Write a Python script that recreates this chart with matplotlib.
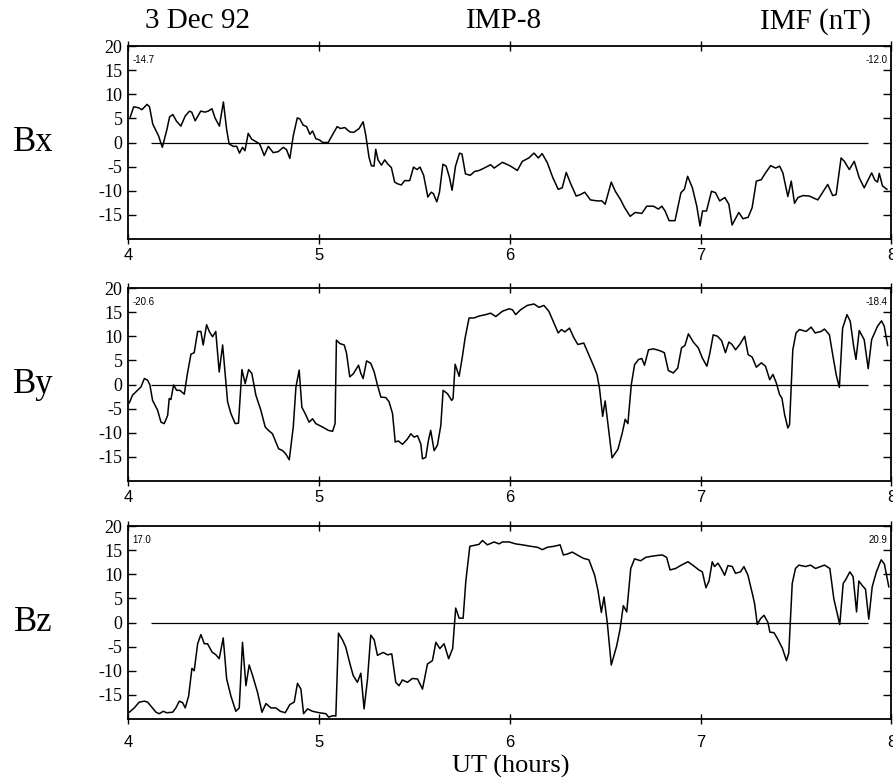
import matplotlib.pyplot as plt

plt.rcParams['font.family'] = 'Liberation Serif'
plt.rcParams['axes.unicode_minus'] = False

# IMP-8 magnetometer, 3 Dec 1992, GSM components (nT) vs UT hours
t_bx = [4.012, 4.03, 4.056, 4.073, 4.10, 4.113, 4.13, 4.16, 4.18, 4.204, 4.218, 4.235, 4.253,
        4.277, 4.30, 4.322, 4.334, 4.352, 4.381, 4.404, 4.42, 4.44, 4.456, 4.479, 4.50, 4.517,
        4.53, 4.552, 4.57, 4.584, 4.60, 4.613, 4.63, 4.648, 4.674, 4.69, 4.714, 4.735, 4.761,
        4.787, 4.814, 4.831, 4.848, 4.866, 4.887, 4.90, 4.918, 4.936, 4.953, 4.967, 4.984,
        5.005, 5.02, 5.049, 5.07, 5.096, 5.113, 5.136, 5.162, 5.183, 5.211, 5.232, 5.246,
        5.263, 5.275, 5.289, 5.298, 5.31, 5.328, 5.345, 5.362, 5.38, 5.397, 5.415, 5.432,
        5.45, 5.476, 5.496, 5.514, 5.53, 5.549, 5.571, 5.589, 5.60, 5.618, 5.632, 5.65,
        5.667, 5.684, 5.698, 5.716, 5.737, 5.75, 5.768, 5.793, 5.816, 5.84, 5.866, 5.90,
        5.918, 5.962, 6.005, 6.04, 6.066, 6.10, 6.127, 6.15, 6.17, 6.197, 6.226, 6.254,
        6.275, 6.296, 6.318, 6.348, 6.37, 6.393, 6.423, 6.457, 6.483, 6.50, 6.532, 6.553,
        6.58, 6.602, 6.631, 6.657, 6.692, 6.718, 6.753, 6.779, 6.797, 6.814, 6.835, 6.866,
        6.897, 6.915, 6.932, 6.957, 6.98, 6.997, 7.01, 7.031, 7.057, 7.078, 7.10, 7.127,
        7.148, 7.165, 7.20, 7.222, 7.249, 7.27, 7.292, 7.318, 7.34, 7.367, 7.393, 7.414,
        7.431, 7.457, 7.475, 7.492, 7.51, 7.536, 7.57, 7.614, 7.64, 7.666, 7.692, 7.71,
        7.736, 7.753, 7.779, 7.805, 7.831, 7.857, 7.896, 7.913, 7.927, 7.936, 7.953, 7.976]
bx = [5.3, 7.4, 7.2, 6.8, 7.9, 7.4, 3.8, 1.4, -1.0, 2.7, 5.3, 5.8, 4.5,
      3.4, 5.5, 6.5, 6.3, 4.5, 6.5, 6.3, 6.5, 7.0, 5.1, 3.4, 8.4, 2.7,
      -0.3, -0.8, -0.8, -2.2, -1.0, -1.7, 1.9, 0.7, 0.1, -0.3, -2.7, -0.8, -2.1,
      -1.9, -1.0, -1.5, -3.3, 1.4, 5.1, 4.9, 3.6, 3.3, 1.7, 2.4, 0.8,
      0.5, 0.0, 0.0, 1.5, 3.3, 2.9, 3.1, 2.2, 2.1, 2.9, 4.3, 1.5,
      -3.1, -4.8, -4.9, -1.4, -3.6, -4.7, -3.6, -4.5, -5.2, -8.2, -8.6, -8.8,
      -7.9, -7.9, -5.1, -5.6, -5.1, -6.8, -11.3, -10.3, -10.6, -12.3, -10.3, -4.5,
      -4.9, -7.2, -9.9, -4.9, -2.2, -2.4, -6.5, -6.8, -6.0, -5.8, -5.3, -4.6,
      -5.3, -4.1, -4.9, -5.8, -3.9, -3.2, -2.2, -3.2, -2.3, -4.2, -7.3, -9.7,
      -9.4, -6.2, -8.4, -11.1, -10.8, -10.3, -11.9, -12.1, -12.1, -12.8, -8.2, -10.1,
      -11.8, -13.5, -15.3, -14.5, -14.7, -13.2, -13.2, -13.8, -13.2, -14.2, -16.2, -16.2,
      -10.4, -9.7, -7.0, -9.4, -13.2, -17.3, -14.2, -14.2, -10.1, -10.4, -12.1, -11.4,
      -12.8, -17.1, -14.5, -15.8, -15.5, -13.5, -8.0, -7.7, -6.3, -4.8, -5.3, -4.9,
      -6.3, -11.2, -8.0, -12.6, -11.4, -11.0, -11.1, -11.9, -10.3, -8.7, -11.0, -10.8,
      -3.2, -3.9, -5.6, -3.9, -7.3, -9.4, -6.3, -7.8, -8.2, -6.4, -9.0, -9.7]

t_by = [4.007, 4.024, 4.05, 4.068, 4.086, 4.103, 4.115, 4.129, 4.155, 4.173, 4.19, 4.208,
        4.216, 4.225, 4.239, 4.255, 4.272, 4.295, 4.312, 4.33, 4.347, 4.365, 4.382, 4.394,
        4.412, 4.426, 4.443, 4.46, 4.478, 4.496, 4.522, 4.539, 4.562, 4.579, 4.597, 4.614,
        4.632, 4.649, 4.67, 4.696, 4.719, 4.736, 4.757, 4.789, 4.81, 4.827, 4.845, 4.866,
        4.88, 4.897, 4.911, 4.928, 4.949, 4.967, 4.984, 5.019, 5.05, 5.072, 5.085, 5.092,
        5.11, 5.133, 5.145, 5.162, 5.18, 5.208, 5.22, 5.232, 5.25, 5.272, 5.29, 5.307,
        5.325, 5.351, 5.368, 5.386, 5.40, 5.417, 5.438, 5.464, 5.482, 5.499, 5.517, 5.534,
        5.543, 5.56, 5.574, 5.586, 5.604, 5.621, 5.639, 5.651, 5.674, 5.696, 5.703, 5.714,
        5.735, 5.752, 5.766, 5.787, 5.813, 5.84, 5.875, 5.90, 5.927, 5.962, 5.997, 6.014,
        6.031, 6.057, 6.092, 6.127, 6.153, 6.179, 6.205, 6.231, 6.254, 6.271, 6.289, 6.313,
        6.336, 6.357, 6.388, 6.414, 6.44, 6.457, 6.47, 6.487, 6.50, 6.515, 6.536, 6.567,
        6.588, 6.605, 6.619, 6.637, 6.654, 6.675, 6.692, 6.706, 6.727, 6.753, 6.788, 6.81,
        6.831, 6.857, 6.88, 6.90, 6.918, 6.936, 6.962, 6.988, 7.009, 7.033, 7.049, 7.066,
        7.089, 7.11, 7.13, 7.148, 7.165, 7.183, 7.205, 7.231, 7.249, 7.27, 7.292, 7.318,
        7.34, 7.362, 7.379, 7.397, 7.414, 7.426, 7.44, 7.457, 7.466, 7.483, 7.50, 7.518,
        7.553, 7.579, 7.60, 7.631, 7.649, 7.675, 7.692, 7.71, 7.727, 7.744, 7.767, 7.784,
        7.802, 7.814, 7.831, 7.857, 7.878, 7.896, 7.927, 7.948, 7.962, 7.98]
by = [-3.8, -2.2, -1.2, -0.5, 1.25, 0.9, -0.1, -3.3, -5.3, -7.8, -8.1, -6.4,
      -2.9, -3.1, -0.1, -1.2, -1.2, -2.0, 2.4, 6.3, 6.6, 11.0, 11.0, 8.2,
      12.4, 11.0, 9.9, 11.0, 2.6, 8.2, -3.6, -6.0, -8.1, -8.0, 3.1, 0.2,
      3.1, 2.3, -2.2, -5.3, -8.8, -9.5, -10.2, -13.3, -13.7, -14.4, -15.6, -8.8,
      -0.5, 3.0, -4.7, -6.0, -7.8, -7.1, -8.1, -8.8, -9.5, -9.7, -8.1, 9.2,
      8.5, 8.2, 6.5, 1.6, 2.2, 4.0, 2.3, 1.25, 4.9, 4.4, 2.6, -0.1,
      -2.6, -2.7, -3.6, -6.0, -11.9, -11.7, -12.4, -11.3, -10.2, -10.9, -10.6, -12.3,
      -15.4, -15.1, -11.6, -9.5, -13.7, -12.6, -8.5, -1.2, -1.9, -3.3, -2.9, 4.2,
      1.7, 5.8, 9.6, 13.8, 13.8, 14.2, 14.5, 14.8, 14.1, 15.2, 15.7, 15.5,
      14.5, 15.5, 16.4, 16.7, 16.0, 16.4, 15.2, 12.8, 10.7, 11.4, 10.9, 11.7,
      9.7, 8.3, 8.6, 6.2, 3.8, 2.1, -0.7, -6.6, -3.4, -8.3, -15.2, -13.4,
      -10.3, -7.2, -8.1, 0.0, 4.1, 5.2, 5.4, 4.0, 7.2, 7.4, 7.0, 6.6,
      2.9, 2.4, 3.4, 7.6, 8.1, 10.5, 8.8, 7.6, 5.5, 3.8, 6.6, 10.3,
      10.0, 9.1, 6.6, 8.8, 8.3, 7.2, 8.3, 10.0, 6.2, 5.7, 3.6, 4.5,
      3.8, 1.0, 2.1, 0.3, -2.1, -2.8, -6.2, -9.0, -8.3, 7.2, 10.7, 11.4,
      11.0, 11.9, 10.7, 11.0, 11.5, 10.3, 6.2, 2.1, -0.6, 11.7, 14.5, 13.1,
      7.9, 5.2, 11.2, 9.3, 3.3, 9.3, 12.1, 13.2, 12.1, 8.1]

t_bz = [4.007, 4.033, 4.059, 4.086, 4.103, 4.12, 4.147, 4.164, 4.185, 4.202, 4.234, 4.251,
        4.269, 4.286, 4.30, 4.318, 4.335, 4.347, 4.365, 4.382, 4.40, 4.417, 4.44, 4.461,
        4.478, 4.499, 4.517, 4.539, 4.565, 4.583, 4.60, 4.618, 4.635, 4.653, 4.679, 4.702,
        4.723, 4.749, 4.775, 4.798, 4.824, 4.848, 4.871, 4.888, 4.906, 4.92, 4.941, 4.967,
        5.002, 5.037, 5.051, 5.075, 5.089, 5.103, 5.124, 5.141, 5.162, 5.18, 5.202, 5.22,
        5.237, 5.255, 5.272, 5.29, 5.307, 5.337, 5.36, 5.382, 5.403, 5.42, 5.438, 5.464,
        5.49, 5.517, 5.543, 5.569, 5.595, 5.613, 5.634, 5.656, 5.68, 5.701, 5.717, 5.735,
        5.756, 5.77, 5.791, 5.814, 5.839, 5.857, 5.883, 5.918, 5.944, 5.962, 5.997, 6.031,
        6.066, 6.11, 6.145, 6.171, 6.197, 6.232, 6.264, 6.281, 6.302, 6.328, 6.354, 6.386,
        6.415, 6.445, 6.462, 6.48, 6.494, 6.511, 6.532, 6.56, 6.578, 6.595, 6.613, 6.634,
        6.654, 6.686, 6.712, 6.738, 6.773, 6.80, 6.822, 6.84, 6.869, 6.899, 6.934, 6.962,
        6.991, 7.009, 7.028, 7.044, 7.061, 7.073, 7.091, 7.108, 7.126, 7.143, 7.166, 7.183,
        7.209, 7.227, 7.248, 7.271, 7.283, 7.297, 7.314, 7.332, 7.353, 7.363, 7.384, 7.401,
        7.428, 7.45, 7.462, 7.48, 7.497, 7.515, 7.55, 7.576, 7.602, 7.628, 7.649, 7.677,
        7.698, 7.729, 7.747, 7.759, 7.782, 7.799, 7.817, 7.829, 7.846, 7.864, 7.881, 7.899,
        7.921, 7.946, 7.963, 7.986]
bz = [-18.6, -17.7, -16.5, -16.3, -16.5, -17.3, -18.6, -18.9, -18.4, -18.7, -18.6, -17.7,
      -16.3, -16.6, -17.7, -15.2, -9.5, -10.0, -4.4, -2.5, -4.4, -4.4, -6.1, -6.7,
      -7.5, -3.2, -11.7, -15.2, -18.4, -17.7, -4.1, -13.1, -8.8, -11.0, -14.5, -18.6,
      -16.8, -17.7, -17.7, -18.4, -18.7, -17.0, -16.5, -12.6, -13.8, -18.9, -17.9, -18.4,
      -18.7, -18.9, -19.6, -19.3, -19.4, -2.2, -3.6, -5.1, -8.4, -11.0, -12.4, -10.5,
      -17.9, -11.7, -2.6, -3.6, -6.8, -6.2, -6.7, -6.5, -12.4, -13.1, -11.9, -12.4,
      -11.6, -11.7, -13.8, -8.6, -7.9, -4.1, -5.4, -4.4, -7.5, -5.4, 3.0, 0.9,
      0.9, 8.6, 15.8, 16.0, 16.2, 17.0, 16.1, 16.7, 16.3, 16.7, 16.7, 16.3,
      16.1, 15.8, 15.6, 15.1, 15.6, 15.8, 16.1, 14.0, 14.2, 14.6, 14.0, 13.3,
      13.0, 9.8, 6.7, 2.1, 5.3, 0.0, -8.8, -4.9, -1.4, 3.5, 2.2, 11.2,
      13.2, 12.8, 13.5, 13.7, 13.9, 14.0, 13.5, 10.9, 11.2, 11.9, 12.6, 11.8,
      10.9, 10.5, 7.2, 8.6, 12.6, 11.6, 12.3, 11.2, 9.8, 11.8, 11.6, 10.2,
      10.5, 11.6, 9.8, 6.0, 3.9, -0.4, 0.8, 1.5, 0.0, -2.0, -2.1, -3.2,
      -5.3, -7.9, -6.3, 8.1, 11.2, 11.9, 11.6, 11.9, 11.2, 11.6, 11.9, 11.2,
      4.9, -0.4, 8.1, 8.8, 10.5, 9.5, 2.2, 8.6, 7.7, 6.9, 0.7, 7.4,
      10.5, 13.0, 12.1, 7.4]

panel_names = ['Bx', 'By', 'Bz']
left_notes = ['-14.7', '-20.6', '17.0']
right_notes = ['-12.0', '-18.4', '20.9']
y_ticks = [20, 15, 10, 5, 0, -5, -10, -15]
x_ticks = [4, 5, 6, 7, 8]

series = [(t_bx, bx), (t_by, by), (t_bz, bz)]
bottoms = [0.6936, 0.3833, 0.0782]
tick_pads = [3, 3, 8]

fig = plt.figure(figsize=(8.93, 7.80), dpi=100)

for i, (t, b) in enumerate(series):
    ax = fig.add_axes([0.1433, bottoms[i], 0.855, 0.2474])
    ax.plot(t, b, color='black', lw=1.1)
    ax.hlines(0, 4.12, 7.875, color='black', lw=0.9)
    ax.set_xlim(4, 8)
    ax.set_ylim(-20, 20)

    ax.set_yticks(y_ticks)
    ax.set_yticklabels([str(v) for v in y_ticks], fontsize=13)
    ax.tick_params(axis='y', direction='in', length=6, width=1.0, pad=4,
                   left=True, right=True)

    ax.set_xticks(x_ticks)
    ax.set_xticklabels([str(v) for v in x_ticks], fontsize=12,
                       family='Liberation Sans')
    ax.tick_params(axis='x', direction='inout', length=7, width=1.0,
                   pad=tick_pads[i], top=True, bottom=True)

    for s in ax.spines.values():
        s.set_linewidth(1.3)

    ax.text(0.006, 0.93, left_notes[i], transform=ax.transAxes, fontsize=7,
            family='Liberation Sans', ha='left', va='center')
    ax.text(0.995, 0.93, right_notes[i], transform=ax.transAxes, fontsize=7,
            family='Liberation Sans', ha='right', va='center')

    fig.text(0.037, bottoms[i] + 0.2474 * 0.5, panel_names[i], fontsize=25,
             ha='center', va='center')

fig.text(0.221, 0.973, '3 Dec 92', fontsize=21, ha='center', va='center')
fig.text(0.564, 0.973, 'IMP-8', fontsize=21, ha='center', va='center')
fig.text(0.913, 0.973, 'IMF (nT)', fontsize=21, ha='center', va='center')
fig.text(0.572, 0.018, 'UT (hours)', fontsize=19, ha='center', va='center')

fig.savefig('out.png', dpi=100)
